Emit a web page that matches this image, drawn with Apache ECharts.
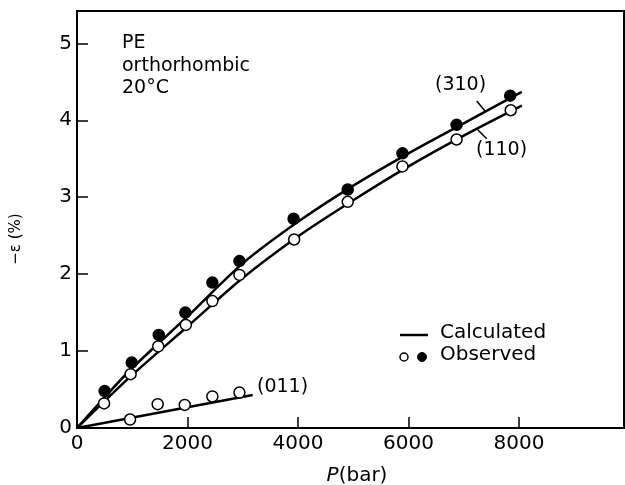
<!DOCTYPE html>
<html>
<head>
<meta charset="utf-8">
<script src="https://cdn.jsdelivr.net/npm/echarts@6/dist/echarts.min.js"></script>
<style>
  html, body { margin: 0; padding: 0; background: #fff; }
  #chart { width: 625px; height: 485px; }
</style>
</head>
<body>
<div id="chart"></div>
<script>
const p310 = [500, 990, 1480, 1960, 2450, 2940, 3920, 4900, 5890, 6870, 7840];
const e310 = [0.48, 0.85, 1.21, 1.50, 1.89, 2.17, 2.72, 3.10, 3.57, 3.94, 4.32];
const p110 = [490, 970, 1470, 1970, 2450, 2940, 3930, 4900, 5890, 6870, 7850];
const e110 = [0.32, 0.70, 1.06, 1.34, 1.65, 1.99, 2.45, 2.94, 3.40, 3.75, 4.13];
const p011 = [960, 1460, 1950, 2450, 2940];
const e011 = [0.11, 0.31, 0.30, 0.41, 0.46];

// ---- Calculated curves ----
const pCalc310 = [0, 500, 1000, 2000, 3000, 4000, 5000, 6000, 7000, 8050];
const eCalc310 = [0, 0.40, 0.78, 1.45, 2.14, 2.68, 3.15, 3.57, 3.96, 4.37];
const pCalc110 = [0, 500, 1000, 2000, 3000, 4000, 5000, 6000, 7000, 8050];
const eCalc110 = [0, 0.35, 0.69, 1.32, 1.95, 2.49, 2.96, 3.40, 3.80, 4.19];
const pCalc011 = [0, 3180];
const eCalc011 = [0, 0.43];

// ---- Leader lines (data coordinates) ----
const leader310 = [[7234, 4.25], [7385, 4.12]];
const leader110 = [[7234, 3.89], [7415, 3.76]];

const zip = (a, b) => a.map((v, i) => [v, b[i]]);
const FONT = 'DejaVu Sans';

const chart = echarts.init(document.getElementById('chart'));

const calcLine = (name, xs, ys, leader) => ({
  name, type: 'line', data: zip(xs, ys), smooth: 0.3, showSymbol: false,
  lineStyle: { color: '#000', width: 2.5 }, z: 2, silent: true,
  markLine: leader ? {
    silent: true, symbol: 'none', label: { show: false },
    lineStyle: { color: '#000', width: 1.5, type: 'solid' },
    data: [[{ coord: leader[0] }, { coord: leader[1] }]]
  } : undefined
});

const obs = (name, xs, ys, filled) => ({
  name, type: 'scatter', data: zip(xs, ys), symbol: 'circle', symbolSize: 11,
  itemStyle: { color: filled ? '#000' : '#fff', borderColor: '#000', borderWidth: 1.5, opacity: 1 },
  z: 5, silent: true
});

chart.setOption({
  animation: false,
  backgroundColor: '#fff',
  grid: { left: 77, right: 1, top: 11, bottom: 57, show: true, borderColor: '#000', borderWidth: 2, containLabel: false },
  xAxis: {
    type: 'value', min: 0, max: 9900, interval: 2000,
    axisLine: { show: true, lineStyle: { color: '#000', width: 2 } },
    axisTick: { show: true, inside: true, length: 11, lineStyle: { color: '#000', width: 1.5 } },
    axisLabel: { color: '#000', fontFamily: FONT, fontSize: 20, margin: 6, showMaxLabel: false,
      formatter: v => String(v) },
    splitLine: { show: false }
  },
  yAxis: {
    type: 'value', min: 0, max: 5.42, interval: 1,
    axisLine: { show: true, lineStyle: { color: '#000', width: 2 } },
    axisTick: { show: true, inside: true, length: 11, lineStyle: { color: '#000', width: 1.5 } },
    axisLabel: { color: '#000', fontFamily: FONT, fontSize: 20, margin: 5, showMaxLabel: false,
      formatter: v => String(v) },
    splitLine: { show: false }
  },
  series: [
    calcLine('calc310', pCalc310, eCalc310, leader310),
    calcLine('calc110', pCalc110, eCalc110, leader110),
    calcLine('calc011', pCalc011, eCalc011, null),
    obs('obs310', p310, e310, true),
    obs('obs110', p110, e110, false),
    obs('obs011', p011, e011, false)
  ],
  graphic: [
    { type: 'text', left: 122, top: 32, style: { text: 'PE\northorhombic\n20°C', fontFamily: FONT, fontSize: 19, lineHeight: 22.5, fill: '#000' } },
    { type: 'text', left: 435, top: 76, style: { text: '(310)', fontFamily: FONT, fontSize: 19, fill: '#000' } },
    { type: 'text', left: 476, top: 141, style: { text: '(110)', fontFamily: FONT, fontSize: 19, fill: '#000' } },
    { type: 'text', left: 257, top: 378, style: { text: '(011)', fontFamily: FONT, fontSize: 19, fill: '#000' } },
    // legend
    { type: 'line', shape: { x1: 400, y1: 335, x2: 428, y2: 335 }, style: { stroke: '#000', lineWidth: 2.5 } },
    { type: 'circle', shape: { cx: 404, cy: 357, r: 4 }, style: { fill: '#fff', stroke: '#000', lineWidth: 1.5 } },
    { type: 'circle', shape: { cx: 422, cy: 357, r: 4.5 }, style: { fill: '#000', stroke: '#000', lineWidth: 1 } },
    { type: 'text', left: 440, top: 323, style: { text: 'Calculated', fontFamily: FONT, fontSize: 20, fill: '#000' } },
    { type: 'text', left: 440, top: 345, style: { text: 'Observed', fontFamily: FONT, fontSize: 20, fill: '#000' } },
    // axis names
    { type: 'text', x: 16, y: 239, rotation: Math.PI / 2,
      style: { text: '−ε (%)', fontFamily: FONT, fontSize: 15, fill: '#000', align: 'center', verticalAlign: 'middle' } },
    { type: 'text', x: 357, y: 476,
      style: { text: '{i|P}(bar)', fontFamily: FONT, fontSize: 20, fill: '#000', align: 'center', verticalAlign: 'middle',
        rich: { i: { fontFamily: FONT, fontSize: 20, fontStyle: 'italic', fill: '#000' } } } }
  ]
});
</script>
</body>
</html>
